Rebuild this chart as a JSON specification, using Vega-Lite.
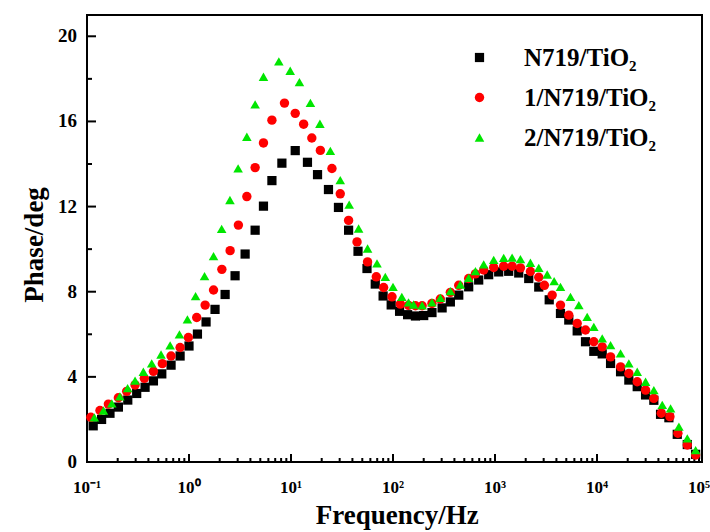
{
  "$schema": "https://vega.github.io/schema/vega-lite/v6.json",
  "width": 615,
  "height": 447,
  "autosize": {"type": "none"},
  "padding": {"left": 87, "top": 15, "right": 8, "bottom": 70},
  "background": "white",
  "config": {
    "view": {"stroke": "black", "strokeWidth": 2},
    "font": "Liberation Serif"
  },
  "datasets": {
    "phase": [
      {"sample": "N719/TiO₂", "freq": 0.115, "phase": 1.70},
      {"sample": "N719/TiO₂", "freq": 0.139, "phase": 2.00},
      {"sample": "N719/TiO₂", "freq": 0.168, "phase": 2.29},
      {"sample": "N719/TiO₂", "freq": 0.203, "phase": 2.58},
      {"sample": "N719/TiO₂", "freq": 0.251, "phase": 2.91},
      {"sample": "N719/TiO₂", "freq": 0.307, "phase": 3.22},
      {"sample": "N719/TiO₂", "freq": 0.371, "phase": 3.51},
      {"sample": "N719/TiO₂", "freq": 0.448, "phase": 3.81},
      {"sample": "N719/TiO₂", "freq": 0.541, "phase": 4.14},
      {"sample": "N719/TiO₂", "freq": 0.667, "phase": 4.55},
      {"sample": "N719/TiO₂", "freq": 0.818, "phase": 4.98},
      {"sample": "N719/TiO₂", "freq": 1.00, "phase": 5.45},
      {"sample": "N719/TiO₂", "freq": 1.21, "phase": 6.01},
      {"sample": "N719/TiO₂", "freq": 1.47, "phase": 6.58},
      {"sample": "N719/TiO₂", "freq": 1.80, "phase": 7.17},
      {"sample": "N719/TiO₂", "freq": 2.26, "phase": 7.87},
      {"sample": "N719/TiO₂", "freq": 2.83, "phase": 8.75},
      {"sample": "N719/TiO₂", "freq": 3.55, "phase": 9.77},
      {"sample": "N719/TiO₂", "freq": 4.45, "phase": 10.89},
      {"sample": "N719/TiO₂", "freq": 5.37, "phase": 12.02},
      {"sample": "N719/TiO₂", "freq": 6.50, "phase": 13.22},
      {"sample": "N719/TiO₂", "freq": 8.14, "phase": 14.04},
      {"sample": "N719/TiO₂", "freq": 11.0, "phase": 14.63},
      {"sample": "N719/TiO₂", "freq": 14.5, "phase": 14.08},
      {"sample": "N719/TiO₂", "freq": 18.2, "phase": 13.50},
      {"sample": "N719/TiO₂", "freq": 23.3, "phase": 12.80},
      {"sample": "N719/TiO₂", "freq": 29.2, "phase": 11.96},
      {"sample": "N719/TiO₂", "freq": 36.7, "phase": 10.89},
      {"sample": "N719/TiO₂", "freq": 45.4, "phase": 9.90},
      {"sample": "N719/TiO₂", "freq": 55.6, "phase": 9.09},
      {"sample": "N719/TiO₂", "freq": 67.0, "phase": 8.36},
      {"sample": "N719/TiO₂", "freq": 80.0, "phase": 7.80},
      {"sample": "N719/TiO₂", "freq": 96.0, "phase": 7.38},
      {"sample": "N719/TiO₂", "freq": 116, "phase": 7.08},
      {"sample": "N719/TiO₂", "freq": 139, "phase": 6.92},
      {"sample": "N719/TiO₂", "freq": 166, "phase": 6.86},
      {"sample": "N719/TiO₂", "freq": 200, "phase": 6.88},
      {"sample": "N719/TiO₂", "freq": 241, "phase": 7.02},
      {"sample": "N719/TiO₂", "freq": 303, "phase": 7.24},
      {"sample": "N719/TiO₂", "freq": 365, "phase": 7.52},
      {"sample": "N719/TiO₂", "freq": 441, "phase": 7.84},
      {"sample": "N719/TiO₂", "freq": 552, "phase": 8.23},
      {"sample": "N719/TiO₂", "freq": 692, "phase": 8.55},
      {"sample": "N719/TiO₂", "freq": 867, "phase": 8.80},
      {"sample": "N719/TiO₂", "freq": 1087, "phase": 8.93},
      {"sample": "N719/TiO₂", "freq": 1362, "phase": 8.96},
      {"sample": "N719/TiO₂", "freq": 1709, "phase": 8.88},
      {"sample": "N719/TiO₂", "freq": 2142, "phase": 8.62},
      {"sample": "N719/TiO₂", "freq": 2685, "phase": 8.22},
      {"sample": "N719/TiO₂", "freq": 3400, "phase": 7.62},
      {"sample": "N719/TiO₂", "freq": 4385, "phase": 6.98},
      {"sample": "N719/TiO₂", "freq": 5289, "phase": 6.67},
      {"sample": "N719/TiO₂", "freq": 6394, "phase": 6.16},
      {"sample": "N719/TiO₂", "freq": 7715, "phase": 5.65},
      {"sample": "N719/TiO₂", "freq": 9306, "phase": 5.20},
      {"sample": "N719/TiO₂", "freq": 11250, "phase": 5.08},
      {"sample": "N719/TiO₂", "freq": 13580, "phase": 4.63},
      {"sample": "N719/TiO₂", "freq": 17020, "phase": 4.24},
      {"sample": "N719/TiO₂", "freq": 20520, "phase": 3.85},
      {"sample": "N719/TiO₂", "freq": 24790, "phase": 3.54},
      {"sample": "N719/TiO₂", "freq": 29930, "phase": 3.15},
      {"sample": "N719/TiO₂", "freq": 36070, "phase": 2.90},
      {"sample": "N719/TiO₂", "freq": 41980, "phase": 2.24},
      {"sample": "N719/TiO₂", "freq": 50680, "phase": 2.08},
      {"sample": "N719/TiO₂", "freq": 61220, "phase": 1.30},
      {"sample": "N719/TiO₂", "freq": 76770, "phase": 0.82},
      {"sample": "N719/TiO₂", "freq": 92680, "phase": 0.36},

      {"sample": "1/N719/TiO₂", "freq": 0.109, "phase": 2.10},
      {"sample": "1/N719/TiO₂", "freq": 0.134, "phase": 2.42},
      {"sample": "1/N719/TiO₂", "freq": 0.162, "phase": 2.72},
      {"sample": "1/N719/TiO₂", "freq": 0.203, "phase": 3.02},
      {"sample": "1/N719/TiO₂", "freq": 0.245, "phase": 3.32},
      {"sample": "1/N719/TiO₂", "freq": 0.296, "phase": 3.62},
      {"sample": "1/N719/TiO₂", "freq": 0.365, "phase": 3.93},
      {"sample": "1/N719/TiO₂", "freq": 0.448, "phase": 4.26},
      {"sample": "1/N719/TiO₂", "freq": 0.548, "phase": 4.62},
      {"sample": "1/N719/TiO₂", "freq": 0.667, "phase": 4.98},
      {"sample": "1/N719/TiO₂", "freq": 0.818, "phase": 5.38},
      {"sample": "1/N719/TiO₂", "freq": 0.986, "phase": 5.85},
      {"sample": "1/N719/TiO₂", "freq": 1.19, "phase": 6.79},
      {"sample": "1/N719/TiO₂", "freq": 1.44, "phase": 7.37},
      {"sample": "1/N719/TiO₂", "freq": 1.74, "phase": 8.08},
      {"sample": "1/N719/TiO₂", "freq": 2.10, "phase": 9.05},
      {"sample": "1/N719/TiO₂", "freq": 2.53, "phase": 9.93},
      {"sample": "1/N719/TiO₂", "freq": 3.05, "phase": 11.13},
      {"sample": "1/N719/TiO₂", "freq": 3.69, "phase": 12.47},
      {"sample": "1/N719/TiO₂", "freq": 4.45, "phase": 13.83},
      {"sample": "1/N719/TiO₂", "freq": 5.37, "phase": 14.99},
      {"sample": "1/N719/TiO₂", "freq": 6.50, "phase": 16.06},
      {"sample": "1/N719/TiO₂", "freq": 8.63, "phase": 16.86},
      {"sample": "1/N719/TiO₂", "freq": 11.0, "phase": 16.38},
      {"sample": "1/N719/TiO₂", "freq": 13.3, "phase": 15.87},
      {"sample": "1/N719/TiO₂", "freq": 16.0, "phase": 15.22},
      {"sample": "1/N719/TiO₂", "freq": 19.4, "phase": 14.64},
      {"sample": "1/N719/TiO₂", "freq": 25.2, "phase": 13.79},
      {"sample": "1/N719/TiO₂", "freq": 30.4, "phase": 12.60},
      {"sample": "1/N719/TiO₂", "freq": 36.7, "phase": 11.35},
      {"sample": "1/N719/TiO₂", "freq": 44.4, "phase": 10.34},
      {"sample": "1/N719/TiO₂", "freq": 56.3, "phase": 9.40},
      {"sample": "1/N719/TiO₂", "freq": 68.6, "phase": 8.70},
      {"sample": "1/N719/TiO₂", "freq": 80.9, "phase": 8.20},
      {"sample": "1/N719/TiO₂", "freq": 97.8, "phase": 7.76},
      {"sample": "1/N719/TiO₂", "freq": 118, "phase": 7.42},
      {"sample": "1/N719/TiO₂", "freq": 142, "phase": 7.36},
      {"sample": "1/N719/TiO₂", "freq": 166, "phase": 7.34},
      {"sample": "1/N719/TiO₂", "freq": 193, "phase": 7.34},
      {"sample": "1/N719/TiO₂", "freq": 241, "phase": 7.45},
      {"sample": "1/N719/TiO₂", "freq": 291, "phase": 7.66},
      {"sample": "1/N719/TiO₂", "freq": 365, "phase": 7.97},
      {"sample": "1/N719/TiO₂", "freq": 441, "phase": 8.30},
      {"sample": "1/N719/TiO₂", "freq": 552, "phase": 8.62},
      {"sample": "1/N719/TiO₂", "freq": 643, "phase": 8.84},
      {"sample": "1/N719/TiO₂", "freq": 775, "phase": 9.02},
      {"sample": "1/N719/TiO₂", "freq": 971, "phase": 9.14},
      {"sample": "1/N719/TiO₂", "freq": 1217, "phase": 9.20},
      {"sample": "1/N719/TiO₂", "freq": 1471, "phase": 9.20},
      {"sample": "1/N719/TiO₂", "freq": 1775, "phase": 9.12},
      {"sample": "1/N719/TiO₂", "freq": 2225, "phase": 8.95},
      {"sample": "1/N719/TiO₂", "freq": 2685, "phase": 8.68},
      {"sample": "1/N719/TiO₂", "freq": 3050, "phase": 8.30},
      {"sample": "1/N719/TiO₂", "freq": 3635, "phase": 7.84},
      {"sample": "1/N719/TiO₂", "freq": 4385, "phase": 7.37},
      {"sample": "1/N719/TiO₂", "freq": 5289, "phase": 6.90},
      {"sample": "1/N719/TiO₂", "freq": 6394, "phase": 6.51},
      {"sample": "1/N719/TiO₂", "freq": 7715, "phase": 6.20},
      {"sample": "1/N719/TiO₂", "freq": 9306, "phase": 5.65},
      {"sample": "1/N719/TiO₂", "freq": 11250, "phase": 5.41},
      {"sample": "1/N719/TiO₂", "freq": 13580, "phase": 4.94},
      {"sample": "1/N719/TiO₂", "freq": 17020, "phase": 4.47},
      {"sample": "1/N719/TiO₂", "freq": 20520, "phase": 4.16},
      {"sample": "1/N719/TiO₂", "freq": 24790, "phase": 3.77},
      {"sample": "1/N719/TiO₂", "freq": 29930, "phase": 3.38},
      {"sample": "1/N719/TiO₂", "freq": 36070, "phase": 2.99},
      {"sample": "1/N719/TiO₂", "freq": 42650, "phase": 2.29},
      {"sample": "1/N719/TiO₂", "freq": 51860, "phase": 2.13},
      {"sample": "1/N719/TiO₂", "freq": 62090, "phase": 1.35},
      {"sample": "1/N719/TiO₂", "freq": 76770, "phase": 0.80},
      {"sample": "1/N719/TiO₂", "freq": 92680, "phase": 0.33},

      {"sample": "2/N719/TiO₂", "freq": 0.118, "phase": 2.10},
      {"sample": "2/N719/TiO₂", "freq": 0.145, "phase": 2.42},
      {"sample": "2/N719/TiO₂", "freq": 0.175, "phase": 2.75},
      {"sample": "2/N719/TiO₂", "freq": 0.210, "phase": 3.08},
      {"sample": "2/N719/TiO₂", "freq": 0.250, "phase": 3.47},
      {"sample": "2/N719/TiO₂", "freq": 0.296, "phase": 3.82},
      {"sample": "2/N719/TiO₂", "freq": 0.357, "phase": 4.24},
      {"sample": "2/N719/TiO₂", "freq": 0.431, "phase": 4.63},
      {"sample": "2/N719/TiO₂", "freq": 0.532, "phase": 5.05},
      {"sample": "2/N719/TiO₂", "freq": 0.653, "phase": 5.48},
      {"sample": "2/N719/TiO₂", "freq": 0.806, "phase": 6.00},
      {"sample": "2/N719/TiO₂", "freq": 0.965, "phase": 6.70},
      {"sample": "2/N719/TiO₂", "freq": 1.16, "phase": 7.79},
      {"sample": "2/N719/TiO₂", "freq": 1.42, "phase": 8.73},
      {"sample": "2/N719/TiO₂", "freq": 1.74, "phase": 9.67},
      {"sample": "2/N719/TiO₂", "freq": 2.09, "phase": 10.95},
      {"sample": "2/N719/TiO₂", "freq": 2.52, "phase": 12.31},
      {"sample": "2/N719/TiO₂", "freq": 3.03, "phase": 13.79},
      {"sample": "2/N719/TiO₂", "freq": 3.69, "phase": 15.28},
      {"sample": "2/N719/TiO₂", "freq": 4.45, "phase": 16.80},
      {"sample": "2/N719/TiO₂", "freq": 5.37, "phase": 18.10},
      {"sample": "2/N719/TiO₂", "freq": 7.60, "phase": 18.82},
      {"sample": "2/N719/TiO₂", "freq": 9.82, "phase": 18.38},
      {"sample": "2/N719/TiO₂", "freq": 12.1, "phase": 17.85},
      {"sample": "2/N719/TiO₂", "freq": 15.5, "phase": 16.87},
      {"sample": "2/N719/TiO₂", "freq": 19.2, "phase": 15.89},
      {"sample": "2/N719/TiO₂", "freq": 24.3, "phase": 14.62},
      {"sample": "2/N719/TiO₂", "freq": 30.4, "phase": 13.24},
      {"sample": "2/N719/TiO₂", "freq": 37.2, "phase": 12.09},
      {"sample": "2/N719/TiO₂", "freq": 46.0, "phase": 10.97},
      {"sample": "2/N719/TiO₂", "freq": 56.3, "phase": 10.03},
      {"sample": "2/N719/TiO₂", "freq": 69.7, "phase": 9.33},
      {"sample": "2/N719/TiO₂", "freq": 84.0, "phase": 8.70},
      {"sample": "2/N719/TiO₂", "freq": 100, "phase": 8.23},
      {"sample": "2/N719/TiO₂", "freq": 122, "phase": 7.76},
      {"sample": "2/N719/TiO₂", "freq": 142, "phase": 7.50},
      {"sample": "2/N719/TiO₂", "freq": 159, "phase": 7.40},
      {"sample": "2/N719/TiO₂", "freq": 193, "phase": 7.36},
      {"sample": "2/N719/TiO₂", "freq": 241, "phase": 7.50},
      {"sample": "2/N719/TiO₂", "freq": 291, "phase": 7.71},
      {"sample": "2/N719/TiO₂", "freq": 365, "phase": 8.03},
      {"sample": "2/N719/TiO₂", "freq": 457, "phase": 8.34},
      {"sample": "2/N719/TiO₂", "freq": 552, "phase": 8.65},
      {"sample": "2/N719/TiO₂", "freq": 643, "phase": 8.97},
      {"sample": "2/N719/TiO₂", "freq": 775, "phase": 9.28},
      {"sample": "2/N719/TiO₂", "freq": 971, "phase": 9.50},
      {"sample": "2/N719/TiO₂", "freq": 1217, "phase": 9.59},
      {"sample": "2/N719/TiO₂", "freq": 1471, "phase": 9.60},
      {"sample": "2/N719/TiO₂", "freq": 1775, "phase": 9.53},
      {"sample": "2/N719/TiO₂", "freq": 2225, "phase": 9.36},
      {"sample": "2/N719/TiO₂", "freq": 2685, "phase": 9.12},
      {"sample": "2/N719/TiO₂", "freq": 3247, "phase": 8.81},
      {"sample": "2/N719/TiO₂", "freq": 3800, "phase": 8.50},
      {"sample": "2/N719/TiO₂", "freq": 4385, "phase": 8.23},
      {"sample": "2/N719/TiO₂", "freq": 5495, "phase": 7.76},
      {"sample": "2/N719/TiO₂", "freq": 6634, "phase": 7.37},
      {"sample": "2/N719/TiO₂", "freq": 8012, "phase": 6.82},
      {"sample": "2/N719/TiO₂", "freq": 9306, "phase": 6.35},
      {"sample": "2/N719/TiO₂", "freq": 11250, "phase": 5.81},
      {"sample": "2/N719/TiO₂", "freq": 13580, "phase": 5.49},
      {"sample": "2/N719/TiO₂", "freq": 17020, "phase": 5.10},
      {"sample": "2/N719/TiO₂", "freq": 20520, "phase": 4.63},
      {"sample": "2/N719/TiO₂", "freq": 24790, "phase": 4.24},
      {"sample": "2/N719/TiO₂", "freq": 29930, "phase": 3.77},
      {"sample": "2/N719/TiO₂", "freq": 36070, "phase": 3.38},
      {"sample": "2/N719/TiO₂", "freq": 43630, "phase": 2.68},
      {"sample": "2/N719/TiO₂", "freq": 52620, "phase": 2.52},
      {"sample": "2/N719/TiO₂", "freq": 63530, "phase": 1.66},
      {"sample": "2/N719/TiO₂", "freq": 76770, "phase": 1.11},
      {"sample": "2/N719/TiO₂", "freq": 92680, "phase": 0.56}
    ],
    "freqTicks": [
      {"freq": 0.1, "kind": "major", "label": "10⁻¹"}, {"freq": 0.2, "kind": "minor"}, {"freq": 0.3, "kind": "minor"}, {"freq": 0.4, "kind": "minor"}, {"freq": 0.5, "kind": "minor"}, {"freq": 0.6, "kind": "minor"}, {"freq": 0.7, "kind": "minor"}, {"freq": 0.8, "kind": "minor"}, {"freq": 0.9, "kind": "minor"},
      {"freq": 1, "kind": "major", "label": "10⁰"}, {"freq": 2, "kind": "minor"}, {"freq": 3, "kind": "minor"}, {"freq": 4, "kind": "minor"}, {"freq": 5, "kind": "minor"}, {"freq": 6, "kind": "minor"}, {"freq": 7, "kind": "minor"}, {"freq": 8, "kind": "minor"}, {"freq": 9, "kind": "minor"},
      {"freq": 10, "kind": "major", "label": "10¹"}, {"freq": 20, "kind": "minor"}, {"freq": 30, "kind": "minor"}, {"freq": 40, "kind": "minor"}, {"freq": 50, "kind": "minor"}, {"freq": 60, "kind": "minor"}, {"freq": 70, "kind": "minor"}, {"freq": 80, "kind": "minor"}, {"freq": 90, "kind": "minor"},
      {"freq": 100, "kind": "major", "label": "10²"}, {"freq": 200, "kind": "minor"}, {"freq": 300, "kind": "minor"}, {"freq": 400, "kind": "minor"}, {"freq": 500, "kind": "minor"}, {"freq": 600, "kind": "minor"}, {"freq": 700, "kind": "minor"}, {"freq": 800, "kind": "minor"}, {"freq": 900, "kind": "minor"},
      {"freq": 1000, "kind": "major", "label": "10³"}, {"freq": 2000, "kind": "minor"}, {"freq": 3000, "kind": "minor"}, {"freq": 4000, "kind": "minor"}, {"freq": 5000, "kind": "minor"}, {"freq": 6000, "kind": "minor"}, {"freq": 7000, "kind": "minor"}, {"freq": 8000, "kind": "minor"}, {"freq": 9000, "kind": "minor"},
      {"freq": 10000, "kind": "major", "label": "10⁴"}, {"freq": 20000, "kind": "minor"}, {"freq": 30000, "kind": "minor"}, {"freq": 40000, "kind": "minor"}, {"freq": 50000, "kind": "minor"}, {"freq": 60000, "kind": "minor"}, {"freq": 70000, "kind": "minor"}, {"freq": 80000, "kind": "minor"}, {"freq": 90000, "kind": "minor"},
      {"freq": 100000, "kind": "major", "label": "10⁵"}
    ],
    "phaseTicks": [
      {"phase": 0, "kind": "major"}, {"phase": 2, "kind": "minor"}, {"phase": 4, "kind": "major"}, {"phase": 6, "kind": "minor"},
      {"phase": 8, "kind": "major"}, {"phase": 10, "kind": "minor"}, {"phase": 12, "kind": "major"}, {"phase": 14, "kind": "minor"},
      {"phase": 16, "kind": "major"}, {"phase": 18, "kind": "minor"}, {"phase": 20, "kind": "major"}
    ],
    "titles": [
      {"axis": "x", "title": "Frequency/Hz"},
      {"axis": "y", "title": "Phase/deg"}
    ]
  },
  "layer": [
    {
      "data": {"name": "freqTicks"},
      "transform": [{"filter": "datum.kind === 'major'"}],
      "mark": {"type": "tick", "orient": "vertical", "size": 8, "thickness": 2, "color": "black", "opacity": 1, "yOffset": -4},
      "encoding": {
        "x": {"field": "freq", "type": "quantitative", "scale": {"type": "log", "domain": [0.1, 107000], "nice": false}, "axis": null},
        "y": {"datum": 0, "type": "quantitative", "scale": {"domain": [0, 21], "nice": false}, "axis": null}
      }
    },
    {
      "data": {"name": "freqTicks"},
      "transform": [{"filter": "datum.kind === 'minor'"}],
      "mark": {"type": "tick", "orient": "vertical", "size": 4, "thickness": 2, "color": "black", "opacity": 1, "yOffset": -2},
      "encoding": {
        "x": {"field": "freq", "type": "quantitative", "scale": {"type": "log", "domain": [0.1, 107000], "nice": false}, "axis": null},
        "y": {"datum": 0, "type": "quantitative", "scale": {"domain": [0, 21], "nice": false}, "axis": null}
      }
    },
    {
      "data": {"name": "phaseTicks"},
      "transform": [{"filter": "datum.kind === 'major'"}],
      "mark": {"type": "tick", "orient": "horizontal", "size": 9, "thickness": 2, "color": "black", "opacity": 1, "xOffset": 4.5},
      "encoding": {
        "x": {"datum": 0.1, "type": "quantitative", "scale": {"type": "log", "domain": [0.1, 107000], "nice": false}, "axis": null},
        "y": {"field": "phase", "type": "quantitative", "scale": {"domain": [0, 21], "nice": false}, "axis": null}
      }
    },
    {
      "data": {"name": "phaseTicks"},
      "transform": [{"filter": "datum.kind === 'minor'"}],
      "mark": {"type": "tick", "orient": "horizontal", "size": 5, "thickness": 2, "color": "black", "opacity": 1, "xOffset": 2.5},
      "encoding": {
        "x": {"datum": 0.1, "type": "quantitative", "scale": {"type": "log", "domain": [0.1, 107000], "nice": false}, "axis": null},
        "y": {"field": "phase", "type": "quantitative", "scale": {"domain": [0, 21], "nice": false}, "axis": null}
      }
    },
    {
      "data": {"name": "freqTicks"},
      "transform": [{"filter": "datum.kind === 'major'"}],
      "mark": {"type": "text", "font": "Liberation Serif", "fontWeight": "bold", "fontSize": 17, "color": "black", "align": "center", "baseline": "alphabetic", "dy": 31},
      "encoding": {
        "x": {"field": "freq", "type": "quantitative", "scale": {"type": "log", "domain": [0.1, 107000], "nice": false}, "axis": null},
        "y": {"datum": 0, "type": "quantitative", "scale": {"domain": [0, 21], "nice": false}, "axis": null},
        "text": {"field": "label"}
      }
    },
    {
      "data": {"name": "phaseTicks"},
      "transform": [{"filter": "datum.kind === 'major'"}],
      "mark": {"type": "text", "font": "Liberation Serif", "fontWeight": "bold", "fontSize": 19, "color": "black", "align": "right", "baseline": "middle", "dx": -10},
      "encoding": {
        "x": {"datum": 0.1, "type": "quantitative", "scale": {"type": "log", "domain": [0.1, 107000], "nice": false}, "axis": null},
        "y": {"field": "phase", "type": "quantitative", "scale": {"domain": [0, 21], "nice": false}, "axis": null},
        "text": {"field": "phase", "format": "d"}
      }
    },
    {
      "data": {"name": "titles"},
      "transform": [{"filter": "datum.axis === 'x'"}],
      "mark": {"type": "text", "font": "Liberation Serif", "fontWeight": "bold", "fontSize": 27, "color": "black", "align": "center", "baseline": "alphabetic", "dy": 62},
      "encoding": {
        "x": {"datum": 110, "type": "quantitative", "scale": {"type": "log", "domain": [0.1, 107000], "nice": false}, "axis": null},
        "y": {"datum": 0, "type": "quantitative", "scale": {"domain": [0, 21], "nice": false}, "axis": null},
        "text": {"field": "title"}
      }
    },
    {
      "data": {"name": "titles"},
      "transform": [{"filter": "datum.axis === 'y'"}],
      "mark": {"type": "text", "font": "Liberation Serif", "fontWeight": "bold", "fontSize": 27, "color": "black", "align": "center", "baseline": "alphabetic", "angle": 270, "dy": -44},
      "encoding": {
        "x": {"datum": 0.1, "type": "quantitative", "scale": {"type": "log", "domain": [0.1, 107000], "nice": false}, "axis": null},
        "y": {"datum": 10.2, "type": "quantitative", "scale": {"domain": [0, 21], "nice": false}, "axis": null},
        "text": {"field": "title"}
      }
    },
    {
      "data": {"name": "phase"},
      "mark": {"type": "point", "filled": true, "opacity": 1, "strokeWidth": 0},
      "encoding": {
        "x": {"field": "freq", "type": "quantitative", "scale": {"type": "log", "domain": [0.1, 107000], "nice": false}, "axis": null},
        "y": {"field": "phase", "type": "quantitative", "scale": {"domain": [0, 21], "nice": false}, "axis": null},
        "color": {
          "field": "sample",
          "type": "nominal",
          "scale": {
            "domain": ["N719/TiO₂", "1/N719/TiO₂", "2/N719/TiO₂"],
            "range": ["#000000", "#ff0000", "#00e600"]
          },
          "legend": {
            "title": null,
            "orient": "none",
            "legendX": 380,
            "legendY": 30,
            "padding": 0,
            "labelFont": "Liberation Serif",
            "labelFontWeight": "bold",
            "labelFontSize": 25,
            "labelColor": "black",
            "labelOffset": 32,
            "symbolSize": 85,
            "symbolStrokeWidth": 0,
            "rowPadding": 14
          }
        },
        "shape": {
          "field": "sample",
          "type": "nominal",
          "scale": {
            "domain": ["N719/TiO₂", "1/N719/TiO₂", "2/N719/TiO₂"],
            "range": ["square", "circle", "triangle-up"]
          }
        },
        "size": {
          "field": "sample",
          "type": "nominal",
          "scale": {
            "domain": ["N719/TiO₂", "1/N719/TiO₂", "2/N719/TiO₂"],
            "range": [85, 92, 170]
          },
          "legend": null
        }
      }
    }
  ]
}
